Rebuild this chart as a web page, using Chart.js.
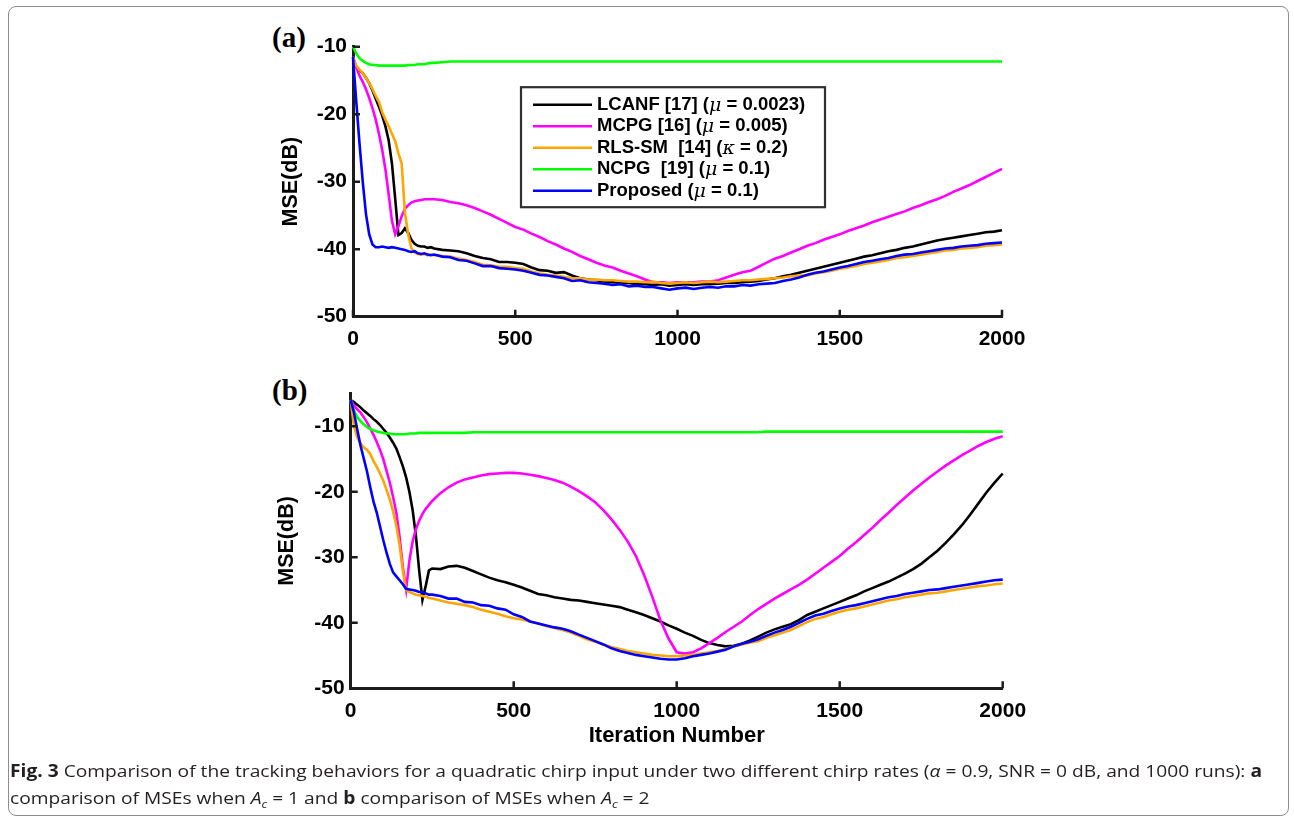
<!DOCTYPE html>
<html>
<head>
<meta charset="utf-8">
<title>MSE tracking comparison</title>
<script src="https://cdn.jsdelivr.net/npm/chart.js@4.4.1/dist/chart.umd.min.js"></script>
<style>
  html, body { margin: 0; padding: 0; background: #fff; }
  body { position: relative; width: 1294px; height: 823px; overflow: hidden; font-family: "Open Sans", "Noto Sans", sans-serif; }
  .frame { position: absolute; left: 8px; top: 6px; width: 1281px; height: 810px; box-sizing: border-box;
           border: 1.5px solid #8c8c8c; border-radius: 8px; }
  canvas { position: absolute; }
  #chartA { left: 250px; top: 15px; }
  #chartB { left: 250px; top: 375px; }
  .tag { position: absolute; left: 272px; font: bold 29px "Liberation Serif", "Times New Roman", serif; line-height: 1; color: #000; }
  .caption { position: absolute; left: 10px; top: 757px; font-size: 17px; line-height: 27px; color: #231f20; }
  .cap-line { display: block; white-space: nowrap; transform-origin: 0 50%; width: max-content; }
  .caption b { font-weight: 700; }
</style>
</head>
<body>
<div class="frame"></div>
<div class="tag" style="top:23px">(a)</div>
<div class="tag" style="top:376px">(b)</div>
<canvas id="chartA" width="800" height="350"></canvas>
<canvas id="chartB" width="800" height="390"></canvas>
<div class="caption">
  <span class="cap-line"><b>Fig. 3</b> Comparison of the tracking behaviors for a quadratic chirp input under two different chirp rates (<i>α</i> = 0.9, SNR = 0 dB, and 1000 runs): <b>a</b></span>
  <span class="cap-line">comparison of MSEs when <i>A</i><sub style="font-size:11px"><i>c</i></sub> = 1 and <b>b</b> comparison of MSEs when <i>A</i><sub style="font-size:11px"><i>c</i></sub> = 2</span>
</div>
<script>
// iteration grid shared by every curve (denser during the initial convergence)
const iterations = [
  0, 10, 20, 30, 40, 50, 60, 70, 80, 90, 100, 110, 120, 130, 140, 150, 160, 170, 180, 190, 200, 210, 220, 230, 240, 250,
  275, 300, 325, 350, 375, 400, 425, 450, 475, 500,
  525, 550, 575, 600, 625, 650, 675, 700, 725, 750,
  775, 800, 825, 850, 875, 900, 925, 950, 975, 1000,
  1025, 1050, 1075, 1100, 1125, 1150, 1175, 1200, 1225, 1250,
  1275, 1300, 1325, 1350, 1375, 1400, 1425, 1450, 1475, 1500,
  1525, 1550, 1575, 1600, 1625, 1650, 1675, 1700, 1725, 1750,
  1775, 1800, 1825, 1850, 1875, 1900, 1925, 1950, 1975, 2000
];

const seriesLabels = [
  "LCANF [17] (μ = 0.0023)",
  "MCPG [16] (μ = 0.005)",
  "RLS-SM  [14] (κ = 0.2)",
  "NCPG  [19] (μ = 0.1)",
  "Proposed (μ = 0.1)"
];
const seriesColors = ["#000000", "#ff00ff", "#ffa500", "#00ff00", "#0000ff"];

const xTicks = [0, 500, 1000, 1500, 2000];
const yTicks = [-50, -40, -30, -20, -10];

// (a) A_c = 1, MSE in dB
const lcanfA = [
  -11.7, -13.0, -13.5, -13.9, -14.6, -15.4, -16.5, -17.7, -18.9, -20.2, -21.8, -23.9, -27.3, -32.5, -37.9, -37.6, -36.9, -37.6, -38.6, -39.2, -39.5, -39.6, -39.6, -39.8, -39.7, -39.9,
  -40.1, -40.2, -40.3, -40.6, -41.0, -41.3, -41.5, -41.9, -41.9, -42.0,
  -42.2, -42.7, -43.1, -43.2, -43.5, -43.4, -43.9, -44.3, -44.5, -44.6,
  -44.8, -44.9, -45.0, -45.0, -45.2, -45.2, -45.3, -45.2, -45.4, -45.3,
  -45.2, -45.3, -45.2, -45.2, -45.1, -45.0, -45.0, -44.9, -44.8, -44.7,
  -44.5, -44.3, -44.0, -43.8, -43.5, -43.2, -42.9, -42.6, -42.3, -42.0,
  -41.7, -41.4, -41.1, -40.9, -40.6, -40.3, -40.1, -39.8, -39.6, -39.3,
  -39.0, -38.7, -38.5, -38.3, -38.1, -37.9, -37.7, -37.5, -37.4, -37.2
];
const mcpgA = [
  -11.7, -13.0, -14.3, -15.2, -16.3, -17.6, -19.1, -20.8, -22.9, -25.3, -28.2, -31.9, -35.8, -37.8, -36.6, -35.1, -34.0, -33.5, -33.1, -32.9, -32.8, -32.7, -32.6, -32.6, -32.6, -32.6,
  -32.7, -33.0, -33.2, -33.5, -33.9, -34.4, -34.9, -35.5, -36.1, -36.7,
  -37.1, -37.7, -38.2, -38.8, -39.3, -39.9, -40.4, -41.0, -41.5, -42.0,
  -42.4, -42.7, -43.2, -43.6, -44.0, -44.5, -44.9, -44.9, -45.0, -44.9,
  -44.9, -44.9, -44.8, -44.8, -44.6, -44.2, -43.8, -43.4, -43.2, -42.6,
  -42.0, -41.4, -41.0, -40.5, -40.0, -39.5, -39.1, -38.6, -38.2, -37.8,
  -37.3, -36.9, -36.5, -36.0, -35.6, -35.2, -34.8, -34.4, -33.9, -33.5,
  -33.0, -32.6, -32.1, -31.5, -31.0, -30.5, -29.9, -29.3, -28.7, -28.1
];
const rlsA = [
  -11.5, -12.8, -13.4, -13.9, -14.6, -15.4, -16.3, -17.3, -18.2, -19.7, -20.8, -21.8, -22.9, -24.0, -25.8, -27.3, -34.6, -37.8, -39.9, -40.5, -40.7, -40.8, -40.7, -40.9, -40.8, -40.9,
  -41.0, -41.1, -41.4, -41.6, -41.9, -42.3, -42.4, -42.6, -42.6, -42.8,
  -42.9, -43.3, -43.6, -43.8, -43.9, -44.1, -44.3, -44.3, -44.5, -44.5,
  -44.6, -44.6, -44.7, -44.8, -44.8, -44.9, -44.8, -45.0, -45.1, -45.0,
  -44.9, -45.0, -44.9, -44.8, -44.9, -44.8, -44.7, -44.6, -44.6, -44.5,
  -44.4, -44.3, -44.2, -44.0, -43.9, -43.9, -43.6, -43.4, -43.2, -42.9,
  -42.7, -42.5, -42.2, -42.0, -41.8, -41.6, -41.3, -41.2, -41.0, -40.8,
  -40.6, -40.4, -40.2, -40.1, -39.9, -39.8, -39.7, -39.5, -39.4, -39.3
];
const ncpgA = [
  -10.0, -11.0, -11.7, -12.1, -12.4, -12.6, -12.7, -12.7, -12.8, -12.8, -12.8, -12.8, -12.8, -12.8, -12.8, -12.8, -12.8, -12.7, -12.7, -12.7, -12.6, -12.6, -12.6, -12.5, -12.4, -12.4,
  -12.3, -12.2, -12.2, -12.2, -12.2, -12.2, -12.2, -12.2, -12.2, -12.2,
  -12.2, -12.2, -12.2, -12.2, -12.2, -12.2, -12.2, -12.2, -12.2, -12.2,
  -12.2, -12.2, -12.2, -12.2, -12.2, -12.2, -12.2, -12.2, -12.2, -12.2,
  -12.2, -12.2, -12.2, -12.2, -12.2, -12.2, -12.2, -12.2, -12.2, -12.2,
  -12.2, -12.2, -12.2, -12.2, -12.2, -12.2, -12.2, -12.2, -12.2, -12.2,
  -12.2, -12.2, -12.2, -12.2, -12.2, -12.2, -12.2, -12.2, -12.2, -12.2,
  -12.2, -12.2, -12.2, -12.2, -12.2, -12.2, -12.2, -12.2, -12.2, -12.2
];
const proposedA = [
  -11.5, -18.1, -24.3, -30.0, -34.8, -37.8, -39.3, -39.7, -39.7, -39.6, -39.7, -39.8, -39.7, -39.8, -39.9, -40.0, -40.1, -40.3, -40.4, -40.3, -40.6, -40.7, -40.6, -40.8, -40.9, -40.8,
  -41.1, -41.2, -41.6, -41.7, -42.1, -42.5, -42.5, -42.8, -42.9, -43.0,
  -43.2, -43.5, -43.8, -43.9, -44.1, -44.3, -44.7, -44.6, -44.9, -45.0,
  -45.1, -45.3, -45.2, -45.5, -45.4, -45.6, -45.6, -45.8, -46.0, -45.8,
  -45.7, -45.9, -45.7, -45.6, -45.7, -45.5, -45.5, -45.3, -45.4, -45.2,
  -45.1, -45.0, -44.7, -44.5, -44.2, -43.8, -43.5, -43.3, -43.0, -42.7,
  -42.5, -42.2, -41.9, -41.7, -41.5, -41.3, -41.0, -40.8, -40.7, -40.5,
  -40.3, -40.1, -39.9, -39.8, -39.6, -39.5, -39.4, -39.2, -39.1, -39.0
];

// (b) A_c = 2, MSE in dB
const lcanfB = [
  -6.0, -6.3, -6.7, -7.1, -7.6, -8.0, -8.4, -8.9, -9.3, -9.8, -10.4, -11.0, -11.7, -12.5, -13.4, -14.7, -16.1, -17.8, -20.0, -22.8, -26.7, -32.0, -36.5, -34.4, -32.0, -31.7,
  -31.8, -31.4, -31.3, -31.6, -32.1, -32.6, -33.1, -33.5, -33.8, -34.2,
  -34.6, -35.1, -35.6, -35.8, -36.1, -36.3, -36.5, -36.6, -36.8, -37.0,
  -37.2, -37.4, -37.6, -38.0, -38.4, -38.8, -39.3, -39.8, -40.4, -40.9,
  -41.5, -42.0, -42.6, -43.1, -43.4, -43.6, -43.5, -43.2, -42.7, -42.1,
  -41.5, -41.0, -40.6, -40.2, -39.6, -38.8, -38.3, -37.8, -37.3, -36.8,
  -36.3, -35.8, -35.2, -34.7, -34.2, -33.7, -33.1, -32.5, -31.8, -31.0,
  -30.0, -29.0, -27.8, -26.5, -25.1, -23.5, -21.8, -20.1, -18.6, -17.2
];
const mcpgB = [
  -6.0, -6.8, -7.4, -7.9, -8.6, -9.4, -10.3, -11.3, -12.4, -13.6, -15.0, -16.8, -18.6, -20.8, -23.2, -26.9, -31.5, -34.9, -30.5, -27.6, -25.7, -24.4, -23.4, -22.6, -22.0, -21.4,
  -20.2, -19.3, -18.6, -18.1, -17.8, -17.5, -17.3, -17.2, -17.1, -17.1,
  -17.2, -17.4, -17.6, -17.9, -18.2, -18.6, -19.2, -19.9, -20.7, -21.6,
  -22.8, -24.2, -25.8, -27.6, -29.8, -32.7, -36.0, -39.6, -42.4, -44.5,
  -44.7, -44.5, -43.9, -43.1, -42.3, -41.4, -40.6, -39.8, -38.8, -37.9,
  -37.1, -36.3, -35.6, -34.9, -34.2, -33.4, -32.5, -31.6, -30.7, -29.8,
  -28.7, -27.7, -26.6, -25.5, -24.3, -23.2, -22.0, -20.9, -19.8, -18.8,
  -17.8, -16.9, -16.0, -15.2, -14.4, -13.7, -13.0, -12.4, -11.9, -11.5
];
const rlsB = [
  -6.0, -10.0, -11.7, -12.6, -13.2, -13.6, -14.2, -15.3, -16.2, -17.2, -18.3, -19.7, -21.2, -23.0, -25.2, -28.1, -32.1, -35.0, -35.3, -35.5, -35.7, -35.8, -35.9, -36.0, -36.2, -36.3,
  -36.6, -36.9, -37.1, -37.3, -37.6, -38.0, -38.3, -38.6, -39.0, -39.3,
  -39.5, -39.8, -40.1, -40.5, -40.8, -41.1, -41.5, -42.0, -42.5, -42.9,
  -43.3, -43.7, -44.0, -44.3, -44.5, -44.7, -44.9, -45.0, -45.1, -45.1,
  -45.0, -44.9, -44.7, -44.5, -44.3, -44.0, -43.6, -43.3, -43.0, -42.8,
  -42.3, -41.9, -41.5, -41.1, -40.5, -39.9, -39.4, -39.1, -38.7, -38.3,
  -38.0, -37.8, -37.5, -37.2, -36.9, -36.6, -36.4, -36.1, -35.9, -35.7,
  -35.5, -35.4, -35.2, -35.0, -34.8, -34.6, -34.4, -34.3, -34.1, -34.0
];
const ncpgB = [
  -6.0, -7.6, -8.6, -9.2, -9.7, -10.1, -10.4, -10.6, -10.8, -10.9, -11.0, -11.1, -11.1, -11.2, -11.2, -11.2, -11.2, -11.2, -11.1, -11.1, -11.1, -11.0, -11.0, -11.0, -11.0, -11.0,
  -11.0, -11.0, -11.0, -11.0, -10.9, -10.9, -10.9, -10.9, -10.9, -10.9,
  -10.9, -10.9, -10.9, -10.9, -10.9, -10.9, -10.9, -10.9, -10.9, -10.9,
  -10.9, -10.9, -10.9, -10.9, -10.9, -10.9, -10.9, -10.9, -10.9, -10.9,
  -10.9, -10.9, -10.9, -10.9, -10.9, -10.9, -10.9, -10.9, -10.9, -10.9,
  -10.8, -10.8, -10.8, -10.8, -10.8, -10.8, -10.8, -10.8, -10.8, -10.8,
  -10.8, -10.8, -10.8, -10.8, -10.8, -10.8, -10.8, -10.8, -10.8, -10.8,
  -10.8, -10.8, -10.8, -10.8, -10.8, -10.8, -10.8, -10.8, -10.8, -10.8
];
const proposedB = [
  -6.0, -7.9, -10.5, -12.9, -14.9, -16.9, -19.3, -21.5, -23.2, -25.3, -27.4, -29.3, -31.0, -32.3, -32.9, -33.5, -34.1, -34.8, -34.9, -35.0, -35.1, -35.3, -35.3, -35.5, -35.7, -35.7,
  -35.9, -36.3, -36.3, -36.8, -36.9, -37.3, -37.4, -37.8, -38.0, -38.7,
  -39.1, -39.8, -40.1, -40.4, -40.7, -40.9, -41.3, -41.8, -42.3, -42.8,
  -43.3, -43.9, -44.3, -44.6, -44.9, -45.1, -45.3, -45.5, -45.6, -45.6,
  -45.4, -45.1, -44.9, -44.7, -44.4, -44.1, -43.6, -43.2, -42.9, -42.5,
  -42.0, -41.5, -41.1, -40.6, -40.0, -39.4, -38.9, -38.6, -38.2, -37.8,
  -37.5, -37.3, -37.0, -36.7, -36.4, -36.1, -35.9, -35.6, -35.4, -35.2,
  -35.0, -34.9, -34.7, -34.5, -34.3, -34.1, -33.9, -33.7, -33.5, -33.4
];

const axisColor = "#1c1c1c";
const sansBold = "'Liberation Sans', Arial, Helvetica, sans-serif";

function buildDatasets(valueLists) {
  return valueLists.map((values, k) => ({
    label: seriesLabels[k],
    data: iterations.map((it, i) => ({ x: it, y: values[i] })),
    borderColor: seriesColors[k],
    backgroundColor: seriesColors[k],
    borderWidth: 2.6,
    pointRadius: 0,
    tension: 0,
    fill: false,
    clip: false,
    order: valueLists.length - k   // last series (Proposed) ends up on top
  }));
}

// MATLAB-style tick marks pointing into the plot area
const innerTicks = {
  id: "innerTicks",
  afterDatasetsDraw(chart) {
    const { ctx, scales: { x, y } } = chart;
    ctx.save();
    ctx.strokeStyle = axisColor;
    ctx.lineWidth = 2.5;
    ctx.beginPath();
    xTicks.forEach(v => {
      const px = x.getPixelForValue(v);
      ctx.moveTo(px, y.bottom);
      ctx.lineTo(px, y.bottom - 7);
    });
    yTicks.forEach(v => {
      const py = y.getPixelForValue(v);
      ctx.moveTo(x.left, py);
      ctx.lineTo(x.left + 7, py);
    });
    ctx.stroke();
    ctx.restore();
  }
};

// boxed legend inside the top panel, greek symbols set in italic
const boxLegend = {
  id: "boxLegend",
  afterDraw(chart, args, opts) {
    if (!opts.show) return;
    const { ctx, chartArea } = chart;
    const left = chartArea.left + opts.dx;
    const top = chartArea.top + opts.dy;
    ctx.save();
    ctx.fillStyle = "#fff";
    ctx.fillRect(left, top, opts.width, opts.height);
    ctx.strokeStyle = "#303030";
    ctx.lineWidth = 2.2;
    ctx.strokeRect(left, top, opts.width, opts.height);
    ctx.textBaseline = "middle";
    chart.data.datasets.forEach((ds, i) => {
      const cy = top + opts.firstRow + i * opts.rowGap;
      ctx.strokeStyle = ds.borderColor;
      ctx.lineWidth = 2.6;
      ctx.beginPath();
      ctx.moveTo(left + 12, cy);
      ctx.lineTo(left + 71, cy);
      ctx.stroke();
      let tx = left + 76;
      ds.label.split(/([μκ])/).forEach(part => {
        if (!part) return;
        const greek = part === "μ" || part === "κ";
        ctx.font = greek ? "italic 19px 'DejaVu Serif', serif" : "bold 18.5px " + sansBold;
        ctx.fillStyle = "#000";
        ctx.fillText(part, tx, cy + (greek ? 1 : 0));
        tx += ctx.measureText(part).width;
      });
    });
    ctx.restore();
  }
};

function panelOptions(cfg) {
  return {
    responsive: false,
    animation: false,
    layout: { padding: { top: cfg.padTop, right: cfg.padRight, left: 0, bottom: 0 } },
    plugins: {
      legend: { display: false },
      tooltip: { enabled: false },
      boxLegend: cfg.legend
    },
    scales: {
      x: {
        type: "linear",
        min: 0,
        max: 2000,
        afterBuildTicks: s => { s.ticks = xTicks.map(v => ({ value: v })); },
        ticks: {
          color: "#000",
          font: { family: sansBold, size: 21, weight: "bold" },
          padding: 10,
          maxRotation: 0,
          autoSkip: false,
          callback: v => String(v)
        },
        grid: { display: true, drawOnChartArea: false, drawTicks: false },
        border: { display: true, color: axisColor, width: 3 },
        title: {
          display: !!cfg.xTitle,
          text: cfg.xTitle || "",
          color: "#000",
          font: { family: sansBold, size: 22, weight: "bold" },
          padding: { top: 0, bottom: cfg.xTitlePad || 0 }
        },
        afterFit: s => { s.height = cfg.xHeight; }
      },
      y: {
        type: "linear",
        min: -50,
        max: cfg.yMax,
        afterBuildTicks: s => { s.ticks = yTicks.map(v => ({ value: v })); },
        ticks: {
          color: "#000",
          font: { family: sansBold, size: 21, weight: "bold" },
          padding: 6,
          callback: v => String(v)
        },
        grid: { display: true, drawOnChartArea: false, drawTicks: false },
        border: { display: true, color: axisColor, width: 3 },
        title: {
          display: true,
          text: "MSE(dB)",
          color: "#000",
          font: { family: sansBold, size: 21.5, weight: "bold" },
          padding: { top: cfg.yTitlePad, bottom: 0 }
        },
        afterFit: s => { s.width = cfg.yWidth; }
      }
    }
  };
}

new Chart(document.getElementById("chartA"), {
  type: "line",
  data: { datasets: buildDatasets([lcanfA, mcpgA, rlsA, ncpgA, proposedA]) },
  options: panelOptions({
    padTop: 31.7, padRight: 48, yMax: -10, yWidth: 103, xHeight: 48.3, yTitlePad: 28,
    legend: { show: true, dx: 168, dy: 40.5, width: 304, height: 120, firstRow: 17.5, rowGap: 21.5 }
  }),
  plugins: [innerTicks, boxLegend]
});

new Chart(document.getElementById("chartB"), {
  type: "line",
  data: { datasets: buildDatasets([lcanfB, mcpgB, rlsB, ncpgB, proposedB]) },
  options: panelOptions({
    padTop: 16.3, padRight: 47.3, yMax: -5, yWidth: 100.7, xHeight: 76.7, yTitlePad: 24.4,
    xTitle: "Iteration Number", xTitlePad: 15.4,
    legend: { show: false }
  }),
  plugins: [innerTicks, boxLegend]
});

// squeeze the caption lines to the printed column width
const capLines = document.querySelectorAll(".cap-line");
const squeeze = 1252 / capLines[0].getBoundingClientRect().width;
capLines.forEach(el => { el.style.transform = "scaleX(" + squeeze + ")"; });
</script>
</body>
</html>
